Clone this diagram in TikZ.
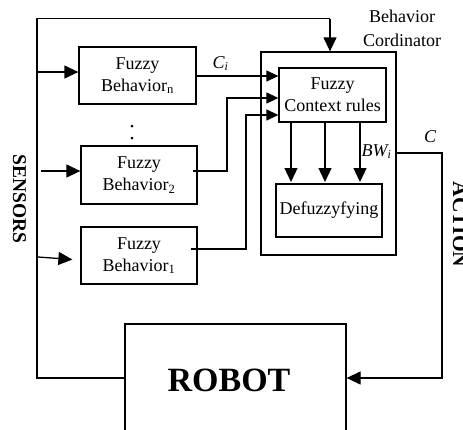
\documentclass[tikz,border=0pt]{standalone}
\usepackage{fontspec}
\setmainfont{Liberation Serif}
\usetikzlibrary{arrows.meta,calc}
\begin{document}
\begin{tikzpicture}[x=1pt,y=-1pt,
  line width=1.3pt,
  box/.style={draw,rectangle,inner sep=0pt,align=center,
    font=\fontsize{18}{22}\selectfont},
  arr/.style={-{Triangle[length=14pt,width=13pt]}},
  sarr/.style={-{Triangle[length=12pt,width=11pt]}},
  lbl/.style={inner sep=0pt,font=\fontsize{18}{22}\selectfont},
  dotmark/.style={circle,fill,inner sep=0pt,minimum size=3pt}]
\useasboundingbox (0,0) rectangle (463,429);

% behaviour blocks
\node[box,minimum width=117pt,minimum height=57pt] (Bn) at (137.5,75.5)
  {Fuzzy\\Behavior\textsubscript{n}};
\node[box,minimum width=116pt,minimum height=58pt] (B2) at (139,175)
  {Fuzzy\\Behavior\textsubscript{2}};
\node[box,minimum width=116pt,minimum height=57pt] (B1) at (139,255.5)
  {Fuzzy\\Behavior\textsubscript{1}};
\node[dotmark] (d1) at (132,126) {};
\node[dotmark] (d2) at (132,138) {};

% coordinator
\node[box,minimum width=135pt,minimum height=203pt] (coord) at (328.5,153.5) {};
\node[box,minimum width=107pt,minimum height=54pt] (ctx) at (332.5,95)
  {Fuzzy\\Context rules};
\node[box,minimum width=106pt,minimum height=53pt] (defz) at (329,210.5)
  {Defuzzyfying};
\node[lbl,align=center,font=\fontsize{18}{24}\selectfont] (coordlbl) at (402,28)
  {Behavior\\Cordinator};

% robot
\node[draw,rectangle,minimum width=221pt,minimum height=136pt,inner sep=0pt]
  (robot) at (235.5,392) {};
\node[inner sep=0pt,anchor=base,font=\fontsize{34}{34}\selectfont\bfseries]
  (robotlbl) at (229,391) {ROBOT};

% side labels
\node[inner sep=0pt,anchor=base,rotate=-90,font=\fontsize{19.5}{20}\selectfont\bfseries]
  (sens) at (13,199) {SENSORS};
\node[inner sep=0pt,anchor=base,rotate=-90,font=\fontsize{21.5}{22}\selectfont\bfseries]
  (act) at (453,224.5) {ACTION};

% signal labels
\node[lbl,anchor=base west] (ci) at (212,68) {\itshape C\raisebox{-0.35ex}{\fontsize{12}{12}\selectfont i}};
\node[lbl,anchor=base west] (bw) at (361,156) {\itshape BW\raisebox{-0.35ex}{\fontsize{12}{12}\selectfont i}};
\node[lbl] (cout) at (430,137) {\itshape C};

% sensor feedback bus
\coordinate (bl) at (37,378);
\coordinate (tl) at (37,18.5);
\coordinate (tr) at (330,18.5);
\draw (robot.west |- bl) -- (bl) -- (tl) -- (tr);
\draw[arr] (tr) -- (tr |- coord.north);

% sensor inputs to behaviours
\coordinate (sn) at (37,72);
\coordinate (s2) at (41,171);
\coordinate (s1) at (38,257);
\draw[arr] (sn) -- (sn -| Bn.west);
\draw[arr] (s2) -- (s2 -| B2.west);
\draw[arr] (s1) -- ($(B1.west)+(-8,4)$);

% behaviour outputs into the context rules
\draw[sarr] (Bn.east |- 0,76) -- (ctx.west |- 0,76);
\coordinate (o2) at (193,171);
\coordinate (j2) at (227,98);
\draw[sarr] (o2) -| (j2) -- (j2 -| ctx.west);
\coordinate (o1) at (191,249);
\coordinate (j1) at (246,115);
\draw[sarr] (o1) -| (j1) -- (j1 -| ctx.west);

% context rules to defuzzifier
\foreach \xx in {291,325,360}
  \draw[arr] (\xx,122) -- (\xx,182);

% action output to the robot
\coordinate (a0) at (396,153);
\coordinate (a1) at (442,153);
\coordinate (a2) at (442,378);
\draw[arr] (a0) -- (a1) -- (a2) -- (robot.east |- a2);
\end{tikzpicture}
\end{document}
